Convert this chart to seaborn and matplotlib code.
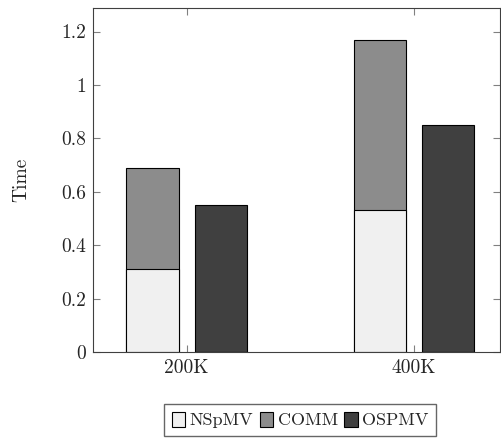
import matplotlib
matplotlib.use("Agg")
import matplotlib.pyplot as plt
import matplotlib.patches as mpatches
import seaborn as sns
import pandas as pd

sizes = ["200K", "400K"]
nspmv = [0.31, 0.53]
comm = [0.38, 0.64]
ospmv = [0.55, 0.85]
yticks = [0, 0.2, 0.4, 0.6, 0.8, 1.0, 1.2]
ytick_labels = ["0", "0.2", "0.4", "0.6", "0.8", "1", "1.2"]

c_nspmv = "#f0f0f0"
c_comm = "#8c8c8c"
c_ospmv = "#404040"

sns.set_style("white")
plt.rcParams["font.family"] = ["cmr10", "DejaVu Serif"]
plt.rcParams["axes.formatter.use_mathtext"] = True
plt.rcParams["font.size"] = 14

fig = plt.figure(figsize=(5.01, 4.38), dpi=100)
ax = fig.add_axes([0.1856, 0.1963, 0.8124, 0.7854])

totals = [a + b for a, b in zip(nspmv, comm)]
df_top = pd.DataFrame({
    "size": sizes * 2,
    "grp": ["stack"] * 2 + ["ospmv"] * 2,
    "val": totals + ospmv,
})
df_bot = pd.DataFrame({
    "size": sizes * 2,
    "grp": ["stack"] * 2 + ["ospmv"] * 2,
    "val": nspmv + [0.0, 0.0],
})

sns.barplot(data=df_top, x="size", y="val", hue="grp", order=sizes,
            hue_order=["stack", "ospmv"],
            palette={"stack": c_comm, "ospmv": c_ospmv},
            width=0.6, gap=0.233, saturation=1, edgecolor="black",
            linewidth=0.8, errorbar=None, legend=False, ax=ax)
sns.barplot(data=df_bot, x="size", y="val", hue="grp", order=sizes,
            hue_order=["stack", "ospmv"],
            palette={"stack": c_nspmv, "ospmv": c_ospmv},
            width=0.6, gap=0.233, saturation=1, edgecolor="black",
            linewidth=0.8, errorbar=None, legend=False, ax=ax)

ax.set_xlim(-0.412, 1.378)
ax.set_ylim(0, 1.288)
ax.set_yticks(yticks)
ax.set_yticklabels(ytick_labels)
ax.set_xlabel("")
ax.set_ylabel("Time", fontsize=14)
ax.yaxis.set_label_coords(-0.155, 0.5)

for s in ax.spines.values():
    s.set_color("#404040")
    s.set_linewidth(0.8)
ax.tick_params(axis="both", direction="in", length=5, width=0.8,
               color="#808080", top=True, right=True, left=True, bottom=True,
               labelsize=14, pad=5)

handles = [
    mpatches.Patch(facecolor=c_nspmv, edgecolor="black", linewidth=0.8, label="NSpMV"),
    mpatches.Patch(facecolor=c_comm, edgecolor="black", linewidth=0.8, label="COMM"),
    mpatches.Patch(facecolor=c_ospmv, edgecolor="black", linewidth=0.8, label="OSPMV"),
]
leg = fig.legend(handles=handles, loc="center", bbox_to_anchor=(0.599, 0.041),
                 ncol=3, frameon=True, fancybox=False, handlelength=0.75,
                 handleheight=0.9, handletextpad=0.25, columnspacing=0.35,
                 borderpad=0.4, fontsize=13, borderaxespad=0)
leg.get_frame().set_edgecolor("#404040")
leg.get_frame().set_linewidth(1.0)

fig.savefig("out.png", dpi=100)
